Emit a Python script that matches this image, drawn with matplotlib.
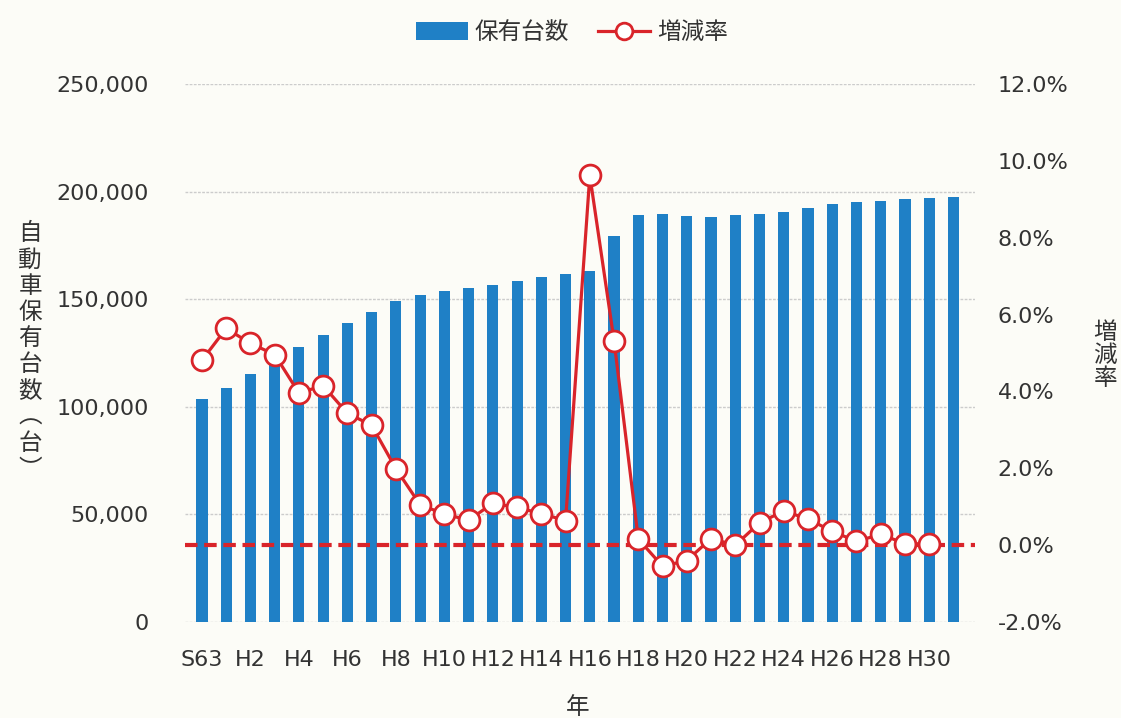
import numpy as np
import matplotlib
matplotlib.use("Agg")
import matplotlib.pyplot as plt
from matplotlib.patches import Patch
from matplotlib.lines import Line2D

plt.rcParams['font.family'] = ['DejaVu Sans', 'Noto Sans CJK JP']

years = ["S63", "H1", "H2", "H3", "H4", "H5", "H6", "H7", "H8", "H9", "H10",
         "H11", "H12", "H13", "H14", "H15", "H16", "H17", "H18", "H19", "H20",
         "H21", "H22", "H23", "H24", "H25", "H26", "H27", "H28", "H29", "H30", "H31"]

vehicles = [103600, 108900, 115400, 121000, 127900, 133400, 138800, 144100,
            149200, 152000, 153800, 155200, 156500, 158500, 160300, 161900,
            163100, 179200, 189000, 189600, 188700, 188200, 188900, 189400,
            190500, 192600, 194200, 195200, 195600, 196600, 196800, 197300]

rates = [4.81, 5.64, 5.25, 4.96, 3.96, 4.15, 3.43, 3.12, 1.99, 1.05, 0.81,
         0.65, 1.09, 0.98, 0.82, 0.64, 9.62, 5.32, 0.16, -0.55, -0.40,
         0.17, 0.0, 0.58, 0.89, 0.68, 0.36, 0.10, 0.28, 0.04, 0.03, np.nan]

left_ticks = [0, 50000, 100000, 150000, 200000, 250000]
right_ticks = [-2, 0, 2, 4, 6, 8, 10, 12]

bar_color = '#1f80c6'
red = '#d9242a'
bg = '#fcfcf7'
txt = '#333333'

fig = plt.figure(figsize=(11.21, 7.18), dpi=100, facecolor=bg)
ax = fig.add_axes([0.165, 0.1337, 0.705, 0.7493])
ax.set_facecolor(bg)
x = np.arange(len(years))

ax.set_ylim(0, 250000)
ax.set_yticks(left_ticks)
ax.set_yticklabels([f"{v:,}" for v in left_ticks])
ax.yaxis.grid(True, color='#cccccc', linestyle=(0, (2, 1)), linewidth=1)
ax.set_axisbelow(True)
ax.bar(x, vehicles, width=0.46, color=bar_color, zorder=2)
ax.set_xlim(-0.7, 31.9)
ax.set_xticks(x[::2])
ax.set_xticklabels(years[::2])

for s in ax.spines.values():
    s.set_visible(False)
ax.tick_params(axis='both', length=0, labelsize=16, labelcolor=txt)
ax.tick_params(axis='y', pad=26)
ax.tick_params(axis='x', pad=20)

ax2 = ax.twinx()
ax2.set_ylim(-2, 12)
ax2.set_yticks(right_ticks)
ax2.set_yticklabels([f"{v:.1f}%" for v in right_ticks])
for s in ax2.spines.values():
    s.set_visible(False)
ax2.tick_params(axis='y', length=0, labelsize=16, labelcolor=txt, pad=16)
ax2.axhline(0, color=red, linestyle=(0, (3, 1.6)), linewidth=3, zorder=3)
ax2.plot(x, rates, color=red, linewidth=2.3, marker='o', markersize=15,
         markerfacecolor='white', markeredgecolor=red, markeredgewidth=2,
         zorder=4)

# axis titles (vertical stacked text)
left_label = "自動車保有台数︵台︶"
fig.text(0.027, 0.51, "\n".join(left_label), ha='center', va='center',
         fontsize=17, color=txt, family=['Noto Sans CJK JP'], linespacing=1.18)
fig.text(0.986, 0.505, "\n".join("増減率"), ha='center', va='center',
         fontsize=17, color=txt, family=['Noto Sans CJK JP'], linespacing=1.0)
fig.text(0.515, 0.015, "年", ha='center', va='center', fontsize=17,
         color=txt, family=['Noto Sans CJK JP'])

handles = [Patch(facecolor=bar_color, edgecolor='none', label='保有台数'),
           Line2D([0], [0], color=red, linewidth=2.3, marker='o', markersize=12,
                  markerfacecolor='white', markeredgecolor=red,
                  markeredgewidth=2, label='増減率')]
fig.legend(handles=handles, loc='upper center', bbox_to_anchor=(0.51, 1.0),
           ncol=2, frameon=False, handlelength=2.2,
           handleheight=0.75, columnspacing=1.2, handletextpad=0.3,
           prop={'family': ['Noto Sans CJK JP'], 'size': 17},
           labelcolor=txt)

fig.savefig("out.png", dpi=100, facecolor=bg)
